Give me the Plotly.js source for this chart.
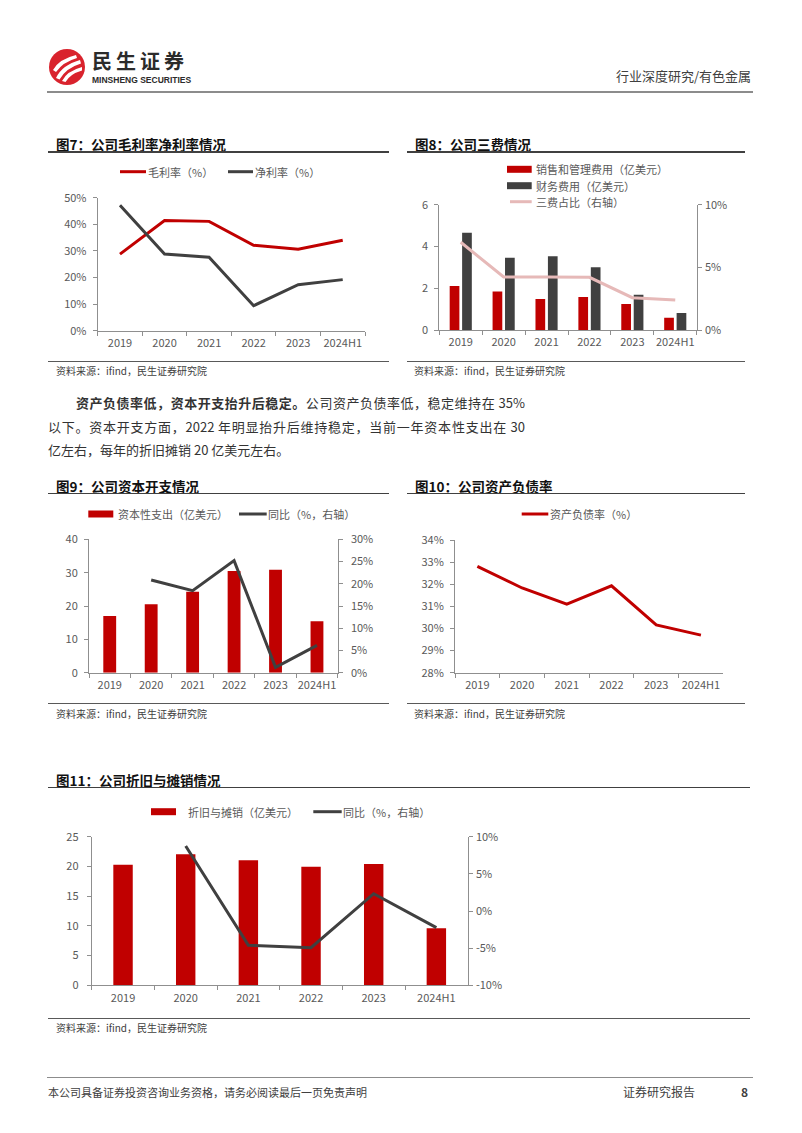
<!DOCTYPE html>
<html><head><meta charset="utf-8">
<script src="https://cdn.plot.ly/plotly-3.0.1.min.js"></script>
<style>
body{margin:0;background:#fff;}
#page{position:relative;width:802px;height:1133px;overflow:hidden;font-family:'Noto Sans CJK SC',sans-serif;background:#fff;}
#chart{position:absolute;left:0;top:0;width:802px;height:1133px;}
.t{position:absolute;white-space:nowrap;}
.hl{position:absolute;}
</style></head>
<body><div id="page"><div id="chart"></div>
<svg width="40" height="40" viewBox="0 0 40 40" style="position:absolute;left:47px;top:47px">
<circle cx="20" cy="20" r="18" fill="#D9232D"/>
<path d="M6 23 Q12 12 29 8 L30 11 Q16 15 9 25 Z" fill="#fff"/>
<path d="M9 31 Q15 18 33 13 L34 16.5 Q19 21 12.5 32.5 Z" fill="#fff"/>
<path d="M15 34 Q20 24 35 20 L35 23.5 Q23 27 18.5 35 Z" fill="#fff"/>
</svg>
</div>
<script>
// ---------- data ----------
const years = ['2019','2020','2021','2022','2023','2024H1'];
const grossMargin = [28.8, 41.4, 41.1, 32.1, 30.6, 34.0];
const netMargin = [47.2, 28.8, 27.6, 9.4, 17.3, 19.2];
const sgaExpense = [2.11, 1.84, 1.48, 1.58, 1.24, 0.59];
const financeExpense = [4.66, 3.46, 3.53, 3.00, 1.69, 0.81];
const expenseRatio = [7.0, 4.23, 4.23, 4.2, 2.58, 2.39];
const capex = [17.0, 20.5, 24.3, 30.5, 30.9, 15.4];
const capexYoY = [null, 20.85, 18.45, 25.2, 1.2, 6.15];
const debtRatio = [32.81, 31.83, 31.10, 31.93, 30.16, 29.70];
const depAmort = [20.29, 22.03, 21.02, 19.96, 20.40, 9.58];
const depAmortYoY = [null, 8.74, -4.62, -4.93, 2.33, -2.24];
const daRightTickVals = [-10, -5, 0, 5, 10];
const daRightTickText = ['-10%', '-5%', '0%', '5%', '10%'];

const names = {
  gross: '毛利率（%）', net: '净利率（%）',
  sga: '销售和管理费用（亿美元）', fin: '财务费用（亿美元）', ratio: '三费占比（右轴）',
  capex: '资本性支出（亿美元）', capexYoY: '同比（%，右轴）',
  debt: '资产负债率（%）',
  da: '折旧与摊销（亿美元）', daYoY: '同比（%，右轴）'
};

// ---------- helpers ----------
const W = 802, H = 1133;
const px = x => x / W;
const py = y => 1 - y / H;
const FONT = "'Noto Sans CJK SC', sans-serif";
const RED = '#C00000', DARK = '#404040', PINK = '#E6B9B8', AX = '#8F8F8F';
const TF = {family: FONT, size: 11, color: '#595959'};

function xAx(l, r, anchor) {
  return {domain: [px(l), px(r)], anchor, type: 'category', range: [-0.5, 5.5],
    showline: true, linecolor: AX, linewidth: 1, ticks: 'outside', tickson: 'boundaries',
    ticklen: 4, tickcolor: AX, tickwidth: 1, showgrid: false, zeroline: false,
    tickfont: TF, tickangle: 0, automargin: false, ticklabelstandoff: 2, fixedrange: true};
}
function yAx(top, bottom, range, dtick, suffix, anchor, extra) {
  return Object.assign({domain: [py(bottom), py(top)], anchor, range, dtick, tick0: range[0],
    ticksuffix: suffix, showline: true, linecolor: AX, linewidth: 1, ticks: 'outside',
    ticklen: 4, tickcolor: AX, tickwidth: 1, showgrid: false, zeroline: false,
    tickfont: TF, tickangle: 0, automargin: false, ticklabelstandoff: 4, fixedrange: true}, extra || {});
}

const traces = [
  {type: 'scatter', mode: 'lines', x: years, y: grossMargin, xaxis: 'x', yaxis: 'y', name: names.gross, line: {color: RED, width: 3}},
  {type: 'scatter', mode: 'lines', x: years, y: netMargin, xaxis: 'x', yaxis: 'y', name: names.net, line: {color: DARK, width: 3}},

  {type: 'bar', x: years, y: sgaExpense, xaxis: 'x2', yaxis: 'y2', name: names.sga, marker: {color: RED}},
  {type: 'bar', x: years, y: financeExpense, xaxis: 'x2', yaxis: 'y2', name: names.fin, marker: {color: DARK}},
  {type: 'scatter', mode: 'lines', x: years, y: expenseRatio, xaxis: 'x2', yaxis: 'y3', name: names.ratio, line: {color: PINK, width: 3}},

  {type: 'bar', x: years, y: capex, xaxis: 'x3', yaxis: 'y4', name: names.capex, marker: {color: RED}, width: 0.31},
  {type: 'scatter', mode: 'lines', x: years, y: capexYoY, xaxis: 'x3', yaxis: 'y5', name: names.capexYoY, line: {color: DARK, width: 3}},

  {type: 'scatter', mode: 'lines', x: years, y: debtRatio, xaxis: 'x4', yaxis: 'y6', name: names.debt, line: {color: RED, width: 3}},

  {type: 'bar', x: years, y: depAmort, xaxis: 'x5', yaxis: 'y7', name: names.da, marker: {color: RED}, width: 0.31},
  {type: 'scatter', mode: 'lines', x: years, y: depAmortYoY, xaxis: 'x5', yaxis: 'y8', name: names.daYoY, line: {color: DARK, width: 3}}
];

// custom legends
const shapes = [], annotations = [];
const LF = {family: FONT, size: 11, color: '#595959'};
function legLine(x0, x1, y, color, label, tx) {
  shapes.push({type: 'line', xref: 'paper', yref: 'paper', x0: px(x0), x1: px(x1), y0: py(y), y1: py(y), line: {color, width: 3}});
  annotations.push({xref: 'paper', yref: 'paper', x: px(tx), y: py(y), xanchor: 'left', yanchor: 'middle', text: label, showarrow: false, font: LF, borderpad: 0});
}
function legRect(x0, x1, y, color, label, tx) {
  shapes.push({type: 'rect', xref: 'paper', yref: 'paper', x0: px(x0), x1: px(x1), y0: py(y + 3.5), y1: py(y - 3.5), fillcolor: color, line: {width: 0}});
  annotations.push({xref: 'paper', yref: 'paper', x: px(tx), y: py(y), xanchor: 'left', yanchor: 'middle', text: label, showarrow: false, font: LF, borderpad: 0});
}
legLine(120, 146, 171.7, RED, names.gross, 147);
legLine(228, 253, 171.7, DARK, names.net, 254);
legRect(507, 531.7, 169.3, RED, names.sga, 535);
legRect(507, 531.7, 185.7, DARK, names.fin, 535);
legLine(510, 531.7, 201.7, PINK, names.ratio, 535);
legRect(88.3, 113.3, 514, RED, names.capex, 117);
legLine(239, 266.7, 514, DARK, names.capexYoY, 267);
legLine(521.7, 548.3, 514, RED, names.debt, 548.5);
legRect(151, 176, 811.7, RED, names.da, 187);
legLine(313.3, 341.7, 811.7, DARK, names.daYoY, 342);

const layout = {
  width: W, height: H, margin: {l: 0, r: 0, t: 0, b: 0},
  paper_bgcolor: '#ffffff', plot_bgcolor: 'rgba(0,0,0,0)',
  showlegend: false, barmode: 'group', bargap: 0.42, bargroupgap: 0.22,
  font: {family: FONT, size: 11, color: '#595959'},
  xaxis: xAx(97.7, 365, 'y'),
  yaxis: yAx(197.7, 330.7, [0, 50], 10, '%', 'x'),
  xaxis2: xAx(439.3, 696.7, 'y2'),
  yaxis2: yAx(204.7, 330, [0, 6], 2, '', 'x2'),
  yaxis3: yAx(204.7, 330, [0, 10], 5, '%', 'x2', {overlaying: 'y2', side: 'right', ticklabelstandoff: 1}),
  xaxis3: xAx(89, 337.7, 'y4'),
  yaxis4: yAx(539.3, 672.7, [0, 40], 10, '', 'x3'),
  yaxis5: yAx(539.3, 672.7, [0, 30], 5, '%', 'x3', {overlaying: 'y4', side: 'right', ticklabelstandoff: 6}),
  xaxis4: xAx(455, 723.3, 'y6'),
  yaxis6: yAx(540, 672.7, [28, 34], 1, '%', 'x4'),
  xaxis5: xAx(91.7, 467.7, 'y7'),
  yaxis7: yAx(836.7, 985.3, [0, 25], 5, '', 'x5', {ticklabelstandoff: 6}),
  yaxis8: yAx(836.7, 985.3, [-10, 10], 5, '', 'x5', {overlaying: 'y7', side: 'right', tickmode: 'array', tickvals: daRightTickVals, ticktext: daRightTickText, ticklabelstandoff: 1}),
  shapes, annotations
};

Plotly.newPlot('chart', traces, layout, {staticPlot: true, displayModeBar: false});

// ---------- page text ----------
const page = document.getElementById('page');
function txt(str, x, y, size, o) {
  o = o || {};
  const d = document.createElement('div');
  d.className = 't';
  d.innerHTML = str;
  const lh = Math.round(size * (o.lhf || 1.2));
  d.style.fontSize = size + 'px';
  d.style.lineHeight = lh + 'px';
  d.style.top = (y - lh / 2) + 'px';
  if (o.right != null) d.style.right = (W - o.right) + 'px'; else d.style.left = x + 'px';
  d.style.color = o.color || '#404040';
  if (o.bold) d.style.fontWeight = 'bold';
  if (o.family) d.style.fontFamily = o.family;
  if (o.ls) d.style.letterSpacing = o.ls + 'px';
  if (o.width) {
    d.style.width = o.width + 'px';
    d.style.whiteSpace = 'normal';
    d.style.textAlign = 'justify';
    d.style.textAlignLast = 'justify';
  }
  page.appendChild(d);
  return d;
}
function hline(x1, x2, y, color, th) {
  const d = document.createElement('div');
  d.className = 'hl';
  d.style.left = x1 + 'px';
  d.style.width = (x2 - x1) + 'px';
  d.style.top = (y - th / 2) + 'px';
  d.style.height = th + 'px';
  d.style.background = color;
  page.appendChild(d);
}

// header
txt('民生证券', 92, 60.5, 20, {bold: true, color: '#2b2b2b', ls: 4, lhf: 1.0});
txt('MINSHENG SECURITIES', 92, 80.5, 8.5, {bold: true, color: '#2b2b2b', lhf: 1.0, family: "'Liberation Sans', Arial, sans-serif"});
txt('行业深度研究/有色金属', 0, 76, 13, {right: 751, color: '#404040'});
hline(47, 753, 92, '#8c8c8c', 1.5);

// figure titles, rules, sources
const TC = '#111111';
txt('图7：公司毛利率净利率情况', 56, 144, 13.5, {bold: true, color: TC});
hline(48, 389, 152, '#404040', 1.5);
txt('图8：公司三费情况', 415, 144, 13.5, {bold: true, color: TC});
hline(407, 745, 152, '#404040', 1.5);
hline(48, 389, 361, '#595959', 1);
hline(407, 745, 361, '#595959', 1);
txt('资料来源：ifind，民生证券研究院', 56, 371, 10, {color: '#404040'});
txt('资料来源：ifind，民生证券研究院', 414, 371, 10, {color: '#404040'});

// paragraph
txt('<b>资产负债率低，资本开支抬升后稳定。</b>公司资产负债率低，稳定维持在 35%', 76, 403, 13, {width: 449, color: '#333333'});
txt('以下。资本开支方面，2022 年明显抬升后维持稳定，当前一年资本性支出在 30', 48, 427, 13, {width: 477, color: '#333333'});
txt('亿左右，每年的折旧摊销 20 亿美元左右。', 48, 450, 13, {color: '#333333'});

txt('图9：公司资本开支情况', 56, 486, 13.5, {bold: true, color: TC});
hline(48, 389, 493.5, '#404040', 1.5);
txt('图10：公司资产负债率', 415, 486, 13.5, {bold: true, color: TC});
hline(407, 745, 493.5, '#404040', 1.5);
hline(48, 389, 703.5, '#595959', 1);
hline(407, 745, 703.5, '#595959', 1);
txt('资料来源：ifind，民生证券研究院', 56, 713.5, 10, {color: '#404040'});
txt('资料来源：ifind，民生证券研究院', 414, 713.5, 10, {color: '#404040'});

txt('图11：公司折旧与摊销情况', 56, 780, 13.5, {bold: true, color: TC});
hline(48, 750, 787.5, '#404040', 1.5);
hline(48, 750, 1018, '#595959', 1);
txt('资料来源：ifind，民生证券研究院', 56, 1028, 10, {color: '#404040'});

// footer
hline(47, 753, 1077.5, '#8c8c8c', 1.5);
txt('本公司具备证券投资咨询业务资格，请务必阅读最后一页免责声明', 48, 1092, 11, {color: '#404040'});
txt('证券研究报告', 623, 1091.5, 12, {color: '#404040'});
txt('8', 741, 1091.5, 12, {bold: true, color: '#404040'});
</script>
</body></html>
